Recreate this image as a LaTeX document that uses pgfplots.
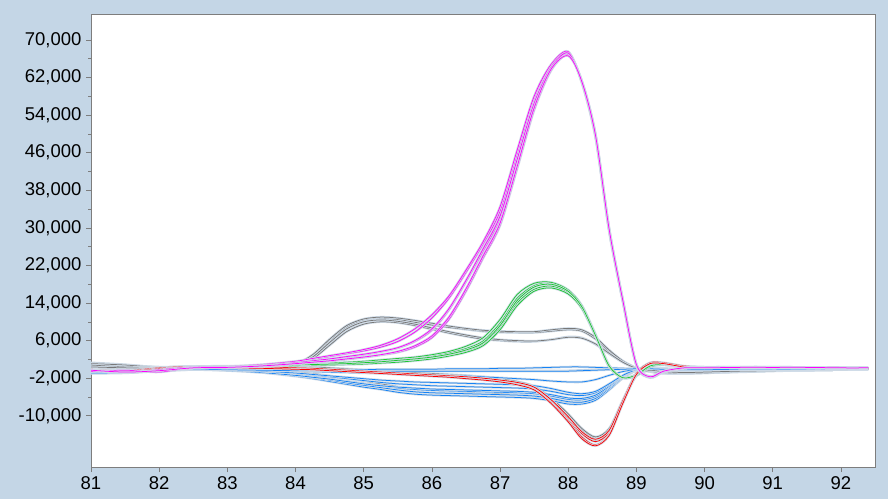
\documentclass[border=0pt]{standalone}
\usepackage{pgfplots}
\pgfplotsset{compat=1.18}
\usepackage{pgfplotstable}
\usepackage{fontspec}
\setmainfont{Liberation Sans}
\definecolor{bgc}{RGB}{196,214,230}
\definecolor{axc}{RGB}{125,125,125}
\definecolor{haloc}{RGB}{208,220,232}
\definecolor{cM}{RGB}{255,0,255}
\definecolor{cG}{RGB}{30,200,50}
\definecolor{cK}{RGB}{120,120,120}
\definecolor{cR}{RGB}{255,0,0}
\definecolor{cB}{RGB}{20,130,245}

\pgfplotstableread{
x     M1     M2     M3     M4     M5     M6
81    -300   -500   -200   -400   -600   -300
81.5  -600   -400   -800   -500   -300   -700
82    -300   -600   -200   -500   -700   -400
82.5   300    200    400    100    300    200
83     400    300    500    200    400    300
83.5   800    600    900    500    700    600
84    1500   1200   1600   1000   1300   1100
84.25 2000   1600   2200   1300   1700   1400
84.5  2600   2000   2800   1600   2100   1700
84.75 3200   2500   3400   2000   2600   2100
85    3800   3000   4100   2400   3100   2500
85.25 4600   3600   5000   2900   3700   3000
85.5  5800   4400   6400   3500   4500   3700
85.75 7800   5800   8500   4600   6000   4900
86   10800   8200  11500   6600   8500   7000
86.25 15000 12500  15500  10500  12800  11000
86.5  20500 18500  21000  16500  18800  17000
86.75 26500 25000  27000  23500  25500  24000
87    33500 32000  34500  30500  32500  31000
87.25 45500 44000  46500  42500  44500  43000
87.5  57500 56000  58000  55000  56500  55500
87.75 64500 64000  64800  63500  64200  63800
88    67300 67000  67500  66800  67200  66600
88.2  61000 61200  60800  61300  61000  61100
88.4  49500 49800  49200  50000  49600  49700
88.6  29500 29800  29200  30000  29600  29700
88.8  14500 14700  14300  14800  14500  14600
89     800    900    700   1000    800    900
89.2 -1800  -1700  -1900  -1600  -1800  -1700
89.4  -600   -500   -700   -500   -600   -500
89.7   100    200    100    200    100    200
90     300    300    200    300    300    200
90.5   400    300    300    400    300    300
91     300    400    300    300    400    300
91.5   300    300    300    300    300    300
92     300    200    300    200    300    200
92.4   200    200    200    200    200    200
}\magTab

\pgfplotstableread{
x      G1     G2     G3     G4     G5
81    -200   -400   -100   -300   -500
81.5  -500   -300   -600   -400   -200
82    -100   -300      0   -200   -400
82.5   300    200    300    100    200
83     300    200    400    200    300
83.5   500    400    600    300    500
84     800    700    900    600    800
84.25  900    800   1000    700    900
84.5  1000    900   1200    800   1000
84.75 1200   1000   1400    900   1100
85    1400   1200   1600   1000   1300
85.25 1600   1400   1900   1200   1500
85.5  1900   1600   2200   1400   1800
85.75 2200   1900   2500   1700   2100
86    2700   2300   3000   2100   2500
86.25 3400   2900   3700   2700   3100
86.5  4300   3700   4800   3500   4000
86.75 5900   5200   6600   4900   5500
87    9700   8800  10500   8300   9200
87.25 15000 14000  15800  13400  14500
87.5  17700 16900  18200  16500  17400
87.75 18300 17600  18400  17200  18000
88    16700 16200  16800  15900  16500
88.2  13300 13000  13500  12800  13200
88.4   7200  7000   7400   6900   7100
88.6    600   500    800    400    600
88.8  -1900 -1900  -1800  -2000  -1900
89    -1300 -1400  -1200  -1500  -1300
89.2    600   500    700    400    600
89.4    900   800    900    800    900
89.7    400   400    500    400    400
90      300   300    300    200    300
90.5    200   200    200    200    200
91      200   200    200    200    200
91.5    200   200    200    200    200
92      100   100    100    100    100
92.4    100   100    100    100    100
}\grnTab

\pgfplotstableread{
x      A1     A2     A3     B1     B2
81    1300   1000   1200    900   1100
81.5   900    700    800    600    800
82     300    200    400    100    300
82.5   500    400    500    300    400
83     400    300    500    300    400
83.5   600    500    700    400    500
84    1100    900   1200    800   1000
84.25 2800   2300   3000   2100   2500
84.5  6000   5400   6300   5000   5600
84.75 8900   8400   9200   7900   8500
85   10400  10000  10600   9500  10000
85.25 10900 10600  11000  10000  10400
85.5  10700 10500  10800   9800  10100
85.75 10100  9900  10300   9200   9500
86     9500  9300   9700   8400   8700
86.25  8900  8800   9100   7600   7900
86.5   8400  8400   8600   6900   7200
86.75  8000  8000   8200   6300   6600
87     7800  7800   8000   6000   6200
87.25  7700  7700   7900   5800   6000
87.5   7800  7700   7900   5800   5900
87.75  8200  8000   8300   6200   6200
88     8500  8300   8600   6800   6700
88.2   8200  8000   8300   6600   6500
88.4   6500  6300   6700   5200   5300
88.6   3800  3700   4000   3200   3300
88.8   1600  1500   1700   1400   1400
89      100   100    200    100    100
89.2   -600  -500   -600   -500   -500
89.4   -900  -900  -1000   -800   -900
89.7   -900  -900  -1000   -800   -900
90     -800  -800   -900   -700   -800
90.5   -600  -600   -700   -500   -600
91     -400  -400   -500   -400   -400
91.5   -300  -300   -300   -200   -300
92     -200  -200   -200   -100   -200
92.4   -100  -100   -100   -100   -100
}\gupTab

\pgfplotstableread{
x      R1      R2      R3      R4      D1      D2      D3      E1
81    -200    -400    -100    -300     600     300     800     400
81.5  -500    -700    -400    -600     300     100     400     200
82     100    -100     200       0     200     100     300     100
82.5   400     300     500     300     500     400     500     300
83     300     200     400     200     500     400     600     200
83.5   300     200     400     100     500     400     600       0
84     100       0     200    -100     400     300     500    -600
84.25    0    -100     100    -200     300     200     400   -1000
84.5  -200    -300    -100    -400     100       0     200   -1500
84.75 -400    -500    -300    -600    -100    -200       0   -2000
85    -600    -700    -500    -800    -300    -400    -200   -2600
85.25 -800    -900    -700   -1000    -500    -600    -400   -3200
85.5 -1000   -1100    -900   -1200    -700    -800    -600   -3800
85.75 -1200  -1300   -1100   -1400    -900   -1000    -800   -4200
86   -1400   -1500   -1300   -1600   -1100   -1200   -1000   -4500
86.25 -1600  -1700   -1500   -1800   -1300   -1400   -1200   -4700
86.5 -1800   -2000   -1700   -2100   -1500   -1600   -1400   -4900
86.75 -2100  -2300   -2000   -2400   -1800   -1900   -1700   -5100
87   -2500   -2700   -2400   -2800   -2200   -2300   -2100   -5300
87.25 -3000  -3300   -2900   -3400   -2800   -2900   -2700   -5500
87.5 -4000   -4400   -3900   -4500   -3800   -3900   -3700   -5900
87.75 -6800  -7200   -6600   -7400   -6400   -6600   -6200   -6500
88  -10500  -11000  -10200  -11300   -9800  -10200   -9600   -7100
88.2 -13800 -14500  -13400  -14900  -13000  -13600  -12700   -7200
88.4 -15500 -16200  -15000  -16400  -14800  -15300  -14500   -6500
88.6 -13500 -14000  -13100  -14200  -13000  -13400  -12700   -4400
88.8  -7000  -7300   -6800   -7400   -6900   -7100   -6700   -2000
89    -1000  -1100    -900   -1200   -1400   -1500   -1300    -400
89.2   1200   1200    1300    1100    -300    -400    -200    -300
89.4   1200   1100    1300    1100    -700    -800    -600    -600
89.7    500    500     600     400    -900   -1000    -800    -800
90      300    300     400     300    -800    -900    -700    -700
90.5    300    200     300     200    -600    -600    -500    -500
91      200    200     200     200    -400    -400    -300    -400
91.5    200    200     200     100    -300    -300    -200    -300
92      200    100     200     100    -200    -200    -100    -200
92.4    100    100     100     100    -100    -100    -100    -100
}\redTab

\pgfplotstableread{
x      U1     U2     U3     U4     U5     U6     F1     F2     F3     F4
81    -800   -900   -700  -1000   -600   -800   -600   -700   -500   -900
81.5  -700   -800   -600   -900   -700   -800   -700   -600   -700   -800
82    -300   -400   -200   -500   -300   -400   -300   -200   -300   -400
82.5  -100   -200      0   -200   -100   -100      0      0    100   -100
83    -300   -300   -200   -400   -200   -300   -200   -100   -100   -200
83.5  -800   -700   -600   -800   -500   -500   -300   -200   -200   -300
84   -1600  -1400  -1200  -1400  -1000   -900   -500   -300   -200   -400
84.25 -2100 -1900  -1600  -1800  -1300  -1200   -600   -300   -200   -400
84.5  -2700 -2400  -2100  -2200  -1700  -1500   -700   -300   -200   -400
84.75 -3300 -3000  -2600  -2700  -2100  -1800   -800   -400   -200   -400
85   -3900  -3500  -3100  -3200  -2500  -2100   -900   -400   -200   -500
85.25 -4400 -4000  -3600  -3600  -2900  -2400  -1000   -400   -100   -500
85.5  -5000 -4500  -4100  -3900  -3200  -2600  -1100   -400   -100   -500
85.75 -5400 -4900  -4400  -4100  -3400  -2800  -1200   -400   -100   -500
86    -5600 -5100  -4600  -4300  -3600  -2900  -1300   -400   -100   -500
86.25 -5700 -5200  -4700  -4400  -3700  -3000  -1400   -400      0   -500
86.5  -5800 -5300  -4800  -4500  -3800  -3100  -1500   -400      0   -500
86.75 -5900 -5400  -4900  -4600  -3900  -3200  -1700   -400      0   -500
87    -6000 -5500  -5000  -4700  -4000  -3300  -1900   -400    100   -500
87.25 -6100 -5600  -5100  -4800  -4100  -3400  -2100   -400    100   -500
87.5  -6300 -5800  -5300  -5000  -4300  -3600  -2300   -400    200   -500
87.75 -6800 -6300  -5800  -5500  -4800  -4200  -2600   -400    300   -500
88    -7500 -7000  -6500  -6200  -5500  -5000  -2800   -400    400   -500
88.2  -7500 -7100  -6600  -6300  -5700  -5300  -2800   -300    400   -400
88.4  -6700 -6300  -5900  -5600  -5100  -4800  -2300   -200    300   -300
88.6  -4500 -4200  -3900  -3700  -3400  -3200  -1400   -100    200   -200
88.8  -2000 -1900  -1700  -1600  -1500  -1400   -600      0    100   -100
89     -300  -300   -200   -200   -200   -200   -100      0      0      0
89.2    100   100    100    100    100    100    100    100    100      0
89.4      0     0    -100     0   -100      0      0      0      0   -100
89.7   -100  -100   -200   -100   -200   -100   -100   -100   -100   -200
90     -100  -100   -200   -100   -200   -100   -100   -100   -100   -200
90.5   -100  -100   -200   -100   -100   -100   -100   -100   -100   -100
91     -100  -100   -100   -100   -100   -100   -100   -100   -100   -100
91.5   -100  -100   -100   -100   -100   -100   -100   -100   -100   -100
92        0     0   -100      0   -100      0      0      0      0   -100
92.4      0     0      0      0      0      0      0      0      0      0
}\bluTab

\pgfkeys{/pgf/number format/.cd,1000 sep={,},assume math mode=true}

\begin{document}
\begin{tikzpicture}
\fill[bgc] (0pt,0pt) rectangle (888pt,499pt);
\begin{axis}[
  at={(91pt,32pt)}, anchor=south west,
  scale only axis, width=784pt, height=453pt,
  xmin=81, xmax=92.5, ymin=-20900, ymax=75500,
  xtick={81,82,...,92},
  ytick={-10000,-2000,...,70000},
  minor y tick num=1,
  scaled y ticks=false,
  tick pos=left, tick align=outside,
  major tick length=5pt, minor tick length=3pt,
  tick style={axc, line width=0.6pt},
  axis line style={axc, line width=0.8pt},
  axis background/.style={fill=white},
  tick label style={font=\fontsize{18.5}{21}\selectfont, text=black},
  yticklabel style={xshift=-1pt},
  xticklabel style={yshift=-1pt},
  every axis plot/.append style={line width=0.75pt, smooth, tension=0.5, no markers},
  halo/.style={preaction={draw=haloc, line width=2.3pt}},
]
% gray upper
\foreach \c in {A1,A2,A3,B1,B2}{
  \addplot[cK, halo] table[x=x, y=\c] {\gupTab};
}
% gray lower
\foreach \c in {D1,D2,D3,E1}{
  \addplot[cK, halo] table[x=x, y=\c] {\redTab};
}
% blue
\foreach \c in {U1,U2,U3,U4,U5,U6,F1,F2,F3,F4}{
  \addplot[cB, halo] table[x=x, y=\c] {\bluTab};
}
% green
\foreach \c in {G1,G2,G3,G4,G5}{
  \addplot[cG, halo] table[x=x, y=\c] {\grnTab};
}
% red
\foreach \c in {R1,R2,R3,R4}{
  \addplot[cR, halo] table[x=x, y=\c] {\redTab};
}
% magenta
\foreach \c in {M1,M2,M3,M4,M5,M6}{
  \addplot[cM, halo] table[x=x, y=\c] {\magTab};
}
\end{axis}
\end{tikzpicture}
\end{document}
